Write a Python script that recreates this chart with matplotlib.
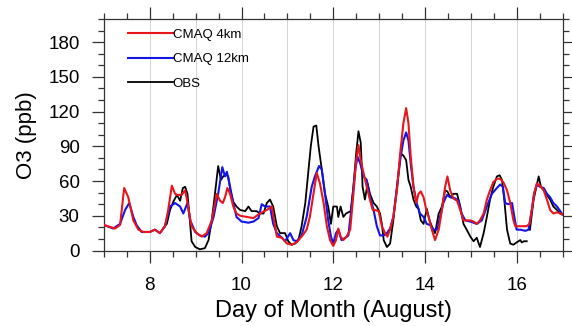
import numpy as np
import matplotlib
matplotlib.use("Agg")
import matplotlib.pyplot as plt
from matplotlib.ticker import MultipleLocator

plt.rcParams['font.family'] = ['Liberation Sans', 'DejaVu Sans']

# ---- data (day of month, O3 ppb) ----
red_day = [7.00, 7.24, 7.35, 7.44, 7.53, 7.64, 7.75, 7.86, 8.00, 8.11, 8.22, 8.33, 8.40, 8.48,
           8.55, 8.60, 8.69, 8.77, 8.80, 8.86, 8.91, 9.02, 9.13, 9.24, 9.35, 9.46, 9.53, 9.59,
           9.64, 9.69, 9.75, 9.82, 9.89, 9.97, 10.11, 10.26, 10.40, 10.55, 10.66, 10.77, 10.88,
           10.99, 11.09, 11.20, 11.31, 11.42, 11.49, 11.57, 11.64, 11.71, 11.79, 11.86, 11.93,
           12.00, 12.06, 12.11, 12.16, 12.22, 12.29, 12.37, 12.44, 12.50, 12.55, 12.60, 12.66,
           12.73, 12.80, 12.86, 12.91, 12.99, 13.06, 13.13, 13.18, 13.24, 13.31, 13.39, 13.46,
           13.53, 13.59, 13.64, 13.69, 13.75, 13.81, 13.86, 13.91, 13.97, 14.03, 14.08, 14.15,
           14.22, 14.30, 14.37, 14.44, 14.49, 14.55, 14.62, 14.70, 14.77, 14.84, 14.91, 14.99,
           15.06, 15.13, 15.20, 15.28, 15.35, 15.42, 15.49, 15.57, 15.64, 15.71, 15.79, 15.86,
           15.93, 15.97, 16.04, 16.11, 16.22, 16.28, 16.33, 16.38, 16.44, 16.51, 16.59, 16.66,
           16.73, 16.80, 16.88, 16.95, 17.00]
red_val = [22, 19, 22, 54, 46, 26, 18, 16, 16, 18, 15, 21, 35, 56,
           49, 48, 48, 52, 46, 32, 21, 15, 12, 15, 26, 49, 43, 41,
           46, 54, 49, 38, 32, 30, 29, 28, 32, 35, 38, 12, 11,
           6, 5, 7, 12, 18, 29, 49, 67, 58, 41, 21, 9,
           4, 9, 19, 12, 9, 12, 18, 49, 78, 91, 78, 67,
           55, 44, 35, 35, 34, 21, 15, 12, 18, 29, 52, 84,
           110, 123, 110, 81, 55, 41, 49, 51, 46, 35, 29, 18,
           9, 18, 35, 55, 64, 52, 45, 43, 35, 26, 26, 26,
           25, 23, 26, 32, 44, 52, 59, 62, 62, 59, 52, 41,
           26, 21, 21, 21, 21, 23, 35, 49, 58, 56, 52, 44,
           35, 32, 33, 32, 31]

blue_day = [7.00, 7.20, 7.35, 7.46, 7.55, 7.64, 7.71, 7.82, 8.00, 8.11, 8.22, 8.33, 8.44, 8.55,
            8.66, 8.73, 8.82, 8.88, 8.99, 9.09, 9.20, 9.28, 9.39, 9.49, 9.58, 9.64, 9.68, 9.75,
            9.82, 9.89, 10.00, 10.15, 10.26, 10.37, 10.44, 10.51, 10.62, 10.69, 10.77, 10.88,
            10.95, 11.06, 11.13, 11.20, 11.31, 11.42, 11.53, 11.60, 11.69, 11.75, 11.82, 11.89,
            11.95, 12.00, 12.06, 12.11, 12.18, 12.26, 12.33, 12.40, 12.48, 12.53, 12.59, 12.66,
            12.73, 12.80, 12.88, 12.95, 13.02, 13.10, 13.17, 13.24, 13.31, 13.39, 13.47, 13.53,
            13.59, 13.64, 13.69, 13.75, 13.82, 13.89, 13.97, 14.04, 14.11, 14.19, 14.26, 14.33,
            14.40, 14.48, 14.55, 14.66, 14.73, 14.80, 14.88, 14.99, 15.13, 15.24, 15.35, 15.46,
            15.57, 15.64, 15.70, 15.75, 15.82, 15.90, 15.95, 16.00, 16.08, 16.19, 16.26, 16.33,
            16.38, 16.44, 16.51, 16.59, 16.66, 16.73, 16.80, 16.88, 16.95, 17.00]
blue_val = [22, 19, 23, 35, 41, 29, 22, 16, 16, 18, 15, 21, 38, 41,
            38, 32, 41, 26, 16, 13, 12, 15, 29, 49, 72, 64, 68, 55,
            41, 29, 25, 24, 25, 28, 40, 38, 38, 23, 15, 11,
            8, 15, 9, 8, 13, 29, 55, 64, 73, 70, 49, 26,
            12, 6, 15, 18, 9, 11, 13, 38, 70, 81, 75, 64,
            61, 46, 35, 21, 13, 13, 15, 19, 29, 55, 81, 95,
            102, 95, 75, 55, 41, 32, 29, 23, 22, 18, 18, 29,
            41, 48, 46, 45, 43, 32, 26, 25, 23, 26, 38, 49,
            54, 57, 55, 41, 40, 41, 29, 18, 18, 17, 18, 35,
            49, 57, 55, 54, 49, 46, 41, 38, 34, 31]

obs_day = [8.29, 8.37, 8.44, 8.51, 8.59, 8.66, 8.72, 8.77, 8.82, 8.86, 8.91, 8.99, 9.09, 9.20,
           9.28, 9.35, 9.42, 9.49, 9.55, 9.60, 9.66, 9.71, 9.76, 9.82, 9.89, 9.97, 10.08, 10.15,
           10.22, 10.33, 10.40, 10.48, 10.55, 10.62, 10.69, 10.77, 10.84, 10.95, 11.02, 11.09,
           11.17, 11.24, 11.31, 11.39, 11.46, 11.51, 11.57, 11.63, 11.68, 11.75, 11.82, 11.89,
           11.95, 12.00, 12.08, 12.11, 12.16, 12.22, 12.28, 12.33, 12.38, 12.44, 12.50, 12.55,
           12.60, 12.64, 12.69, 12.75, 12.80, 12.88, 12.95, 13.02, 13.06, 13.10, 13.17, 13.24,
           13.31, 13.39, 13.47, 13.53, 13.59, 13.64, 13.69, 13.75, 13.81, 13.86, 13.91, 13.97,
           14.04, 14.10, 14.15, 14.22, 14.30, 14.37, 14.44, 14.49, 14.55, 14.62, 14.70, 14.77,
           14.84, 14.91, 14.99, 15.06, 15.13, 15.20, 15.28, 15.35, 15.42, 15.49, 15.57, 15.63,
           15.68, 15.73, 15.79, 15.86, 15.93, 16.00, 16.08, 16.11, 16.16, 16.22, 16.25,
           16.29, 16.37, 16.43, 16.48, 16.53, 16.59, 16.66, 16.73, 16.80, 16.88, 16.95, 17.00]
obs_val = [19, 23, 35, 42, 48, 43, 54, 55, 49, 32, 8, 3, 1, 2,
           9, 26, 49, 73, 61, 64, 66, 64, 51, 42, 38, 35, 34, 38,
           34, 34, 32, 32, 41, 44, 38, 21, 15, 15, 8, 5,
           6, 9, 21, 41, 70, 90, 107, 108, 90, 70, 49, 38,
           23, 38, 38, 29, 38, 29, 32, 33, 34, 55, 84, 103,
           93, 55, 44, 58, 49, 41, 38, 32, 23, 9, 3, 6,
           26, 55, 84, 82, 78, 61, 55, 44, 38, 36, 26, 23,
           36, 26, 21, 15, 32, 38, 52, 51, 46, 49, 49, 38,
           23, 18, 12, 8, 11, 3, 15, 29, 44, 55, 64, 65,
           61, 44, 18, 6, 5, 7, 9, 7, 8, 8, np.nan,
           18, 44, 55, 64, 55, 52, 48, 44, 38, 35, 32, 31]

series_labels = ["CMAQ 4km", "CMAQ 12km", "OBS"]
x_ticks = [8, 10, 12, 14, 16]
y_ticks = [0, 30, 60, 90, 120, 150, 180]

# ---- figure ----
fig = plt.figure(figsize=(5.72, 3.26), dpi=100)
ax = fig.add_axes([104/572, 1-250.5/326, (562.5-104)/572, (250.5-19)/326])

for d in range(8, 17):
    ax.axvline(d, color='#d4d4d4', lw=0.7, zorder=0)

ax.plot(red_day, red_val, color='#e8151b', lw=1.5, label=series_labels[0], zorder=3)
ax.plot(blue_day, blue_val, color='#1414e6', lw=1.5, label=series_labels[1], zorder=2)
ax.plot(obs_day, obs_val, color='black', lw=1.3, label=series_labels[2], zorder=1)

ax.set_xlim(7, 17)
ax.set_ylim(0, 200)
ax.set_xticks(x_ticks)
ax.set_yticks(y_ticks)
ax.xaxis.set_minor_locator(MultipleLocator(0.5))
ax.yaxis.set_minor_locator(MultipleLocator(10))

ax.tick_params(which='both', direction='out', top=True, right=True, color='#333333', width=0.9)
ax.tick_params(axis='x', which='major', length=8.6, pad=10.5, labelsize=13.5)
ax.tick_params(axis='x', which='minor', length=4.3)
ax.tick_params(axis='y', which='major', length=8.6, pad=9, labelsize=13.5)
ax.tick_params(axis='y', which='minor', length=4.3)
for s in ax.spines.values():
    s.set_color('#333333')
    s.set_linewidth(0.9)

ax.set_xlabel("Day of Month (August)", fontsize=17, labelpad=4)
ax.set_ylabel("O3 (ppb)", fontsize=16, labelpad=8)

leg = ax.legend(loc='upper left', bbox_to_anchor=(0.035, 0.994), frameon=False,
                fontsize=9.5, handlelength=3.4, handletextpad=0.0, labelspacing=0.95,
                borderaxespad=0.2)

fig.savefig("out.png", dpi=100)
